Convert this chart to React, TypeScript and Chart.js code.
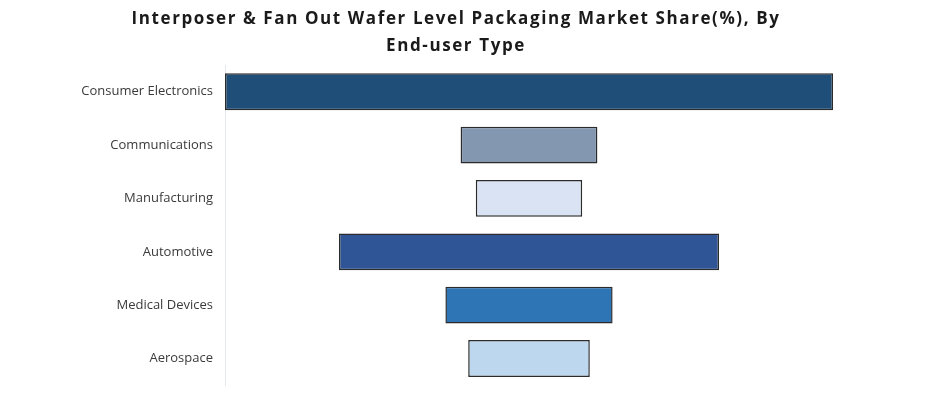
import React, { useEffect, useRef } from "react";
import { Chart, registerables } from "chart.js";

Chart.register(...registerables);

const categories = [
  "Consumer Electronics",
  "Communications",
  "Manufacturing",
  "Automotive",
  "Medical Devices",
  "Aerospace",
];
const shares = [40, 9, 7, 25, 11, 8];
const barColors = ["#1f4e79", "#8497b0", "#dae3f3", "#2f5597", "#2e75b6", "#bdd7ee"];
const titleLines = [
  "Interposer & Fan Out Wafer Level Packaging Market Share(%), By",
  "End-user Type",
];

const titleSpacing = {
  id: "titleSpacing",
  beforeDraw(chart: any) {
    const tb = chart.titleBlock;
    if (tb && !tb.__spaced) {
      const orig = tb.draw.bind(tb);
      tb.draw = (area: any) => {
        const ctx = chart.ctx;
        ctx.save();
        (ctx as any).letterSpacing = "1.6px";
        orig(area);
        ctx.restore();
      };
      tb.__spaced = true;
    }
  },
};

export default function App() {
  const ref = useRef<HTMLCanvasElement | null>(null);
  useEffect(() => {
    document.body.style.margin = "0";
    const canvas = ref.current;
    if (!canvas) return;
    const chart = new Chart(canvas, {
      type: "bar",
      data: {
        labels: categories,
        datasets: [
          {
            data: shares.map((v) => [-v / 2, v / 2]) as any,
            backgroundColor: barColors,
            borderColor: "#2b2b2b",
            borderWidth: 1.5,
            borderSkipped: false,
            categoryPercentage: 1,
            barPercentage: 0.69,
          },
        ],
      },
      options: {
        indexAxis: "y",
        responsive: false,
        animation: false,
        layout: { padding: { left: 0, right: 28, top: 6, bottom: 0 } },
        plugins: {
          legend: { display: false },
          tooltip: { enabled: false },
          title: {
            display: true,
            text: titleLines,
            color: "#1a1a1a",
            font: { family: "'Open Sans'", size: 17, weight: "bold", lineHeight: 1.59 },
            padding: { top: 0, bottom: 5 },
          },
        },
        scales: {
          x: { display: false, min: -20, max: 20 },
          y: {
            grid: { display: false, drawTicks: true, tickLength: 12 },
            border: { display: true, color: "#e4e8f0", width: 1 },
            ticks: {
              color: "#3a3a3a",
              padding: 0,
              font: { family: "'Open Sans'", size: 13 },
            },
            afterFit: (s: any) => {
              s.width = 225;
            },
          },
          yRight: {
            type: "category",
            position: "right",
            grid: { display: false },
            border: { display: false },
            ticks: { display: false },
            afterFit: (s: any) => {
              s.width = 79;
            },
          },
        },
      } as any,
      plugins: [titleSpacing],
    });
    return () => chart.destroy();
  }, []);
  return (
    <div style={{ width: 940, height: 393 }}>
      <canvas ref={ref} width={940} height={393} />
    </div>
  );
}
